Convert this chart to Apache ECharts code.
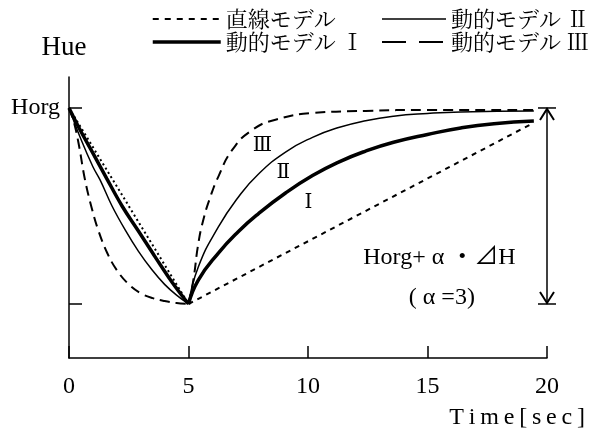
<!DOCTYPE html>
<html>
<head>
<meta charset="utf-8">
<script src="https://cdn.jsdelivr.net/npm/echarts@6/dist/echarts.min.js"></script>
<style>
html,body{margin:0;padding:0;background:#fff;}
#c{width:595px;height:432px;}
</style>
</head>
<body>
<div id="c"></div>
<script>
// ---- data (time [sec], normalised hue: 1 = Horg, 0 = Horg + α·⊿H) ----
const xTicks = [0, 5, 10, 15, 20];
const legendNames = ['直線モデル', '動的モデル Ⅰ', '動的モデル Ⅱ', '動的モデル Ⅲ'];
const linearFall = [[0, 1], [5, 0]];
const linearRise = [[5, 0], [19.45, 0.925]];
const modelIFall = [[0, 1], [0.5, 0.88], [1.0, 0.77], [1.58, 0.64], [2.22, 0.5], [2.89, 0.375], [3.5, 0.26], [3.82, 0.2], [4.32, 0.11], [5, 0]];
const modelIRise = [[5, 0], [5.41, 0.122], [6.25, 0.26], [7.09, 0.37], [7.92, 0.46], [9.06, 0.566], [10.19, 0.655], [11.28, 0.724], [12.41, 0.78], [13.58, 0.825], [15.0, 0.865], [16.39, 0.898], [17.78, 0.92], [19.45, 0.934]];
const modelIIFall = [[0, 1], [0.5, 0.84], [1.0, 0.7], [1.3, 0.633], [1.8, 0.5], [2.35, 0.378], [2.9, 0.27], [3.48, 0.173], [4.0, 0.1], [4.5, 0.045], [5, 0]];
const modelIIRise = [[5, 0], [5.41, 0.189], [6.25, 0.393], [7.09, 0.546], [7.92, 0.662], [9.06, 0.775], [10.19, 0.85], [11.28, 0.9], [12.41, 0.935], [13.58, 0.958], [15.0, 0.972], [16.39, 0.98], [19.45, 0.985]];
const modelIIIFall = [[0, 1], [0.2, 0.93], [0.4, 0.82], [0.67, 0.633], [0.95, 0.49], [1.22, 0.378], [1.6, 0.26], [2.0, 0.173], [2.5, 0.1], [3.0, 0.055], [3.5, 0.03], [4.0, 0.015], [4.5, 0.005], [5, 0]];
const modelIIIRise = [[5, 0], [5.2, 0.12], [5.4, 0.3], [5.6, 0.42], [5.91, 0.545], [6.25, 0.65], [6.83, 0.786], [7.67, 0.888], [8.64, 0.94], [10.19, 0.974], [12.41, 0.985], [15, 0.99], [19.45, 0.99]];

const serif = '"Liberation Serif", "DejaVu Serif", "Noto Sans CJK JP", serif';
const roman = '"DejaVu Serif", "Noto Sans CJK JP", serif';
const cjk = '"Noto Serif CJK JP", "DejaVu Serif", "Noto Sans CJK JP", sans-serif';

function line(name, data, width, type, smooth) {
  return {
    type: 'line', name: name, data: data, smooth: smooth, symbol: 'none',
    animation: false, silent: true,
    itemStyle: {color: '#000'},
    lineStyle: {color: '#000', width: width, type: type}
  };
}

const chart = echarts.init(document.getElementById('c'), null, {renderer: 'canvas'});
const legendText = {fontFamily: cjk, fontSize: 22, color: '#000'};
const option = {
  backgroundColor: '#fff',
  animation: false,
  grid: {left: 69, right: 48, top: 77, bottom: 74},
  legend: [
    {
      orient: 'vertical', left: 146, top: 3, itemGap: 1, itemWidth: 68, itemHeight: 20,
      itemStyle: {opacity: 0},
      data: [
        {name: legendNames[0], lineStyle: {color: '#000', type: [6, 6], width: 2}},
        {name: legendNames[1], lineStyle: {color: '#000', type: 'solid', width: 3.5}}
      ],
      textStyle: legendText
    },
    {
      orient: 'vertical', left: 376, top: 3, itemGap: 1, itemWidth: 64, itemHeight: 20,
      itemStyle: {opacity: 0},
      data: [
        {name: legendNames[2], lineStyle: {color: '#000', type: 'solid', width: 1.5}},
        {name: legendNames[3], lineStyle: {color: '#000', type: [24, 13], width: 2}}
      ],
      textStyle: legendText
    }
  ],
  xAxis: {
    type: 'value', min: 0, max: 20, interval: 5,
    name: 'T\u2009i\u2009m\u2009e\u2009[\u2009s\u2009e\u2009c\u2009]',
    nameLocation: 'end', nameGap: 38,
    nameTextStyle: {fontFamily: serif, fontSize: 24, color: '#000', align: 'right', verticalAlign: 'top', padding: [48, 0, 0, 0]},
    axisLine: {onZero: false, lineStyle: {color: '#000', width: 1.5}},
    axisTick: {inside: true, length: 12, lineStyle: {color: '#000', width: 1.5}},
    axisLabel: {margin: 17, fontFamily: serif, fontSize: 24, color: '#000',
      formatter: v => xTicks.indexOf(v) >= 0 ? String(v) : ''},
    splitLine: {show: false}
  },
  yAxis: {
    type: 'value', min: -0.2755, max: 1.158,
    name: 'Hue', nameLocation: 'end', nameGap: 16,
    nameTextStyle: {fontFamily: serif, fontSize: 27, color: '#000', align: 'center', padding: [0, 10, 0, 0]},
    axisLine: {show: true, onZero: false, lineStyle: {color: '#000', width: 1.5}},
    axisTick: {show: true, inside: true, length: 13, customValues: [0, 1], lineStyle: {color: '#000', width: 1.5}},
    axisLabel: {show: true, customValues: [1], margin: 9, fontFamily: serif, fontSize: 24, color: '#000',
      formatter: v => (Math.abs(v - 1) < 1e-6 ? 'Horg' : '')},
    splitLine: {show: false}
  },
  series: [
    line(legendNames[0], linearRise, 2, [5, 5], false),
    line(legendNames[0], linearFall, 2, [2, 3], false),
    line(legendNames[1], modelIFall, 3.5, 'solid', 0.4),
    line(legendNames[1], modelIRise, 3.5, 'solid', 0.5),
    line(legendNames[2], modelIIFall, 1.5, 'solid', 0.4),
    line(legendNames[2], modelIIRise, 1.5, 'solid', 0.5),
    line(legendNames[3], modelIIIFall, 2, [10, 6], 0.4),
    line(legendNames[3], modelIIIRise, 2, [10, 6], 0.5)
  ]
};
chart.setOption(option);

// ---- annotations placed through the axis scales ----
(function () {
  const P = (x, y) => chart.convertToPixel({gridIndex: 0}, [x, y]);
  const pt = P(20, 1), pb = P(20, 0);
  const cap = 9, ah = 7, al = 12;
  const g = [];
  const st = {stroke: '#000', lineWidth: 1.5, fill: null};
  g.push({type: 'line', shape: {x1: pt[0], y1: pt[1], x2: pb[0], y2: pb[1]}, style: st});
  g.push({type: 'line', shape: {x1: pt[0] - cap, y1: pt[1], x2: pt[0] + cap, y2: pt[1]}, style: st});
  g.push({type: 'line', shape: {x1: pb[0] - cap, y1: pb[1], x2: pb[0] + cap, y2: pb[1]}, style: st});
  g.push({type: 'polyline', shape: {points: [[pt[0] - ah, pt[1] + al], [pt[0], pt[1] + 1], [pt[0] + ah, pt[1] + al]]}, style: {stroke: '#000', lineWidth: 2, fill: null}});
  g.push({type: 'polyline', shape: {points: [[pb[0] - ah, pb[1] - al], [pb[0], pb[1] - 1], [pb[0] + ah, pb[1] - al]]}, style: {stroke: '#000', lineWidth: 2, fill: null}});
  function txt(x, y, s, size, fam) {
    const p = P(x, y);
    g.push({type: 'text', x: p[0], y: p[1], style: {text: s, fill: '#000', font: size + 'px ' + fam, align: 'center', verticalAlign: 'middle'}});
  }
  txt(8.09, 0.806, 'Ⅲ', 20, roman);
  txt(8.97, 0.668, 'Ⅱ', 20, roman);
  txt(10.02, 0.515, 'Ⅰ', 20, roman);
  txt(15.5, 0.235, 'Horg+ α ・⊿H', 24, serif);
  txt(15.6, 0.03, '( α =3)', 24, serif);
  chart.setOption({graphic: g});
})();
</script>
</body>
</html>
